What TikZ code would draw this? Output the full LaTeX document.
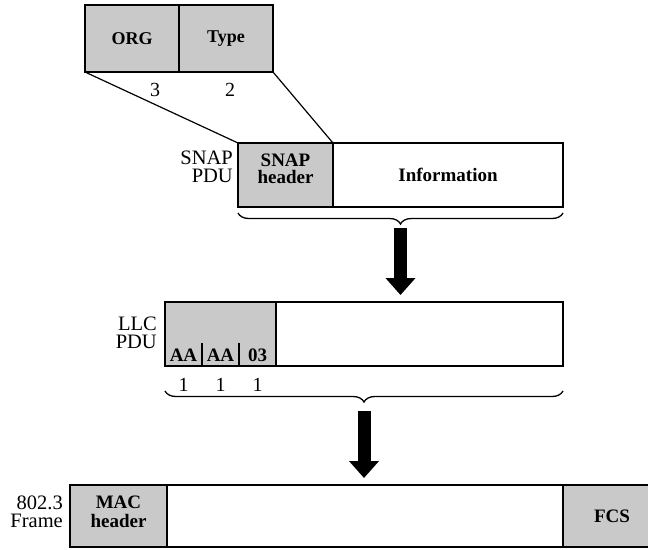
\documentclass[tikz,border=0pt]{standalone}
\usepackage{fontspec}
\setmainfont{Liberation Serif}
\usetikzlibrary{decorations.pathreplacing,arrows.meta,calc}

\tikzset{
  field/.style={draw, line width=1.5pt, inner sep=0pt, outer sep=0pt,
    minimum height=64pt, align=center,
    font=\bfseries\fontsize{19}{17.5}\selectfont},
  shaded/.style={field, fill=gray!42},
  plain/.style={field, fill=white},
  lbl/.style={inner sep=0pt, align=right, font=\fontsize{20.5}{18.5}\selectfont},
  num/.style={inner sep=0pt, font=\fontsize{20}{20}\selectfont},
  octet/.style={inner sep=0pt, font=\bfseries\fontsize{19}{19}\selectfont},
  brc/.style={decorate, decoration={brace, mirror, amplitude=11pt}, line width=1.3pt},
  fat/.style={line width=13pt, -{Triangle[width=29pt,length=17pt]}, shorten >=7pt},
  fan/.style={line width=1.2pt}
}

\begin{document}
\begin{tikzpicture}[x=1pt,y=-1pt]
\useasboundingbox (0,0) rectangle (648,549);

% SNAP header fields
\node[shaded, minimum width=94pt, minimum height=67pt, font=\bfseries\fontsize{18}{18}\selectfont] (org)  at (132,38.5) {ORG};
\node[shaded, minimum width=94pt, minimum height=67pt, font=\bfseries\fontsize{18}{18}\selectfont] (type) at (226,38.5) {Type};
\node[num] (n3) at (155,90) {3};
\node[num] (n2) at (230,90) {2};

% SNAP PDU
\node[shaded, minimum width=95pt] (snaphdr) at (285.5,175) {};
\node[inner sep=0pt, align=center, font=\bfseries\fontsize{19}{17.5}\selectfont] (snaptxt) at (snaphdr.center) [yshift=6pt] {SNAP\\header};
\node[plain, minimum width=230pt] (info) at (448,175) {Information};
\node[lbl, anchor=east] (snaplbl) at (233,167) {SNAP\\PDU};

\draw[fan] (org.south west) -- (snaphdr.north west);
\draw[fan] (type.south east) -- (snaphdr.north east);

\draw[brc] ([yshift=-6pt]snaphdr.south west) -- ([yshift=-6pt]info.south east);
\coordinate (a1) at ($(snaphdr.south west)!.5!(info.south east)+(0,21)$);

% LLC PDU
\node[shaded, minimum width=111pt] (llchdr) at (220.5,334) {};
\node[plain, minimum width=287pt] (llcdata) at (419.5,334) {};
\node[lbl, anchor=east] (llclbl) at (157,333) {LLC\\PDU};

\draw[fat] (a1) -- (a1 |- llchdr.north);

\node[octet] (aa1) at (183.5,355.5) {AA};
\node[octet] (aa2) at (220.5,355.5) {AA};
\node[octet] (c03) at (257.5,355.5) {03};
\coordinate (d1) at (202,343);
\coordinate (d2) at (239,343);
\draw[line width=1.2pt] (d1) -- (d1 |- llchdr.south);
\draw[line width=1.2pt] (d2) -- (d2 |- llchdr.south);

\node[num] (o1) at (183.5,385) {1};
\node[num] (o2) at (220.5,385) {1};
\node[num] (o3) at (257.5,385) {1};

\draw[brc] ([yshift=-25pt]llchdr.south west) -- ([yshift=-25pt]llcdata.south east);
\coordinate (a2) at ($(llchdr.south west)!.5!(llcdata.south east)+(0,45)$);

% 802.3 frame
\node[shaded, minimum width=97pt, minimum height=62pt] (machdr) at (118.5,516) {};
\node[inner sep=0pt, align=center, font=\bfseries\fontsize{19}{18.5}\selectfont] (mactxt) at (machdr.center) [yshift=4pt] {MAC\\header};
\node[plain, minimum width=396pt, minimum height=62pt] (payload) at (365,516) {};
\node[shaded, minimum width=98pt, minimum height=62pt] (fcs) at (612,516) {FCS};
\node[lbl, anchor=east] (framelbl) at (63,512) {802.3\\Frame};

\draw[fat] (a2) -- (a2 |- payload.north);
\end{tikzpicture}
\end{document}
